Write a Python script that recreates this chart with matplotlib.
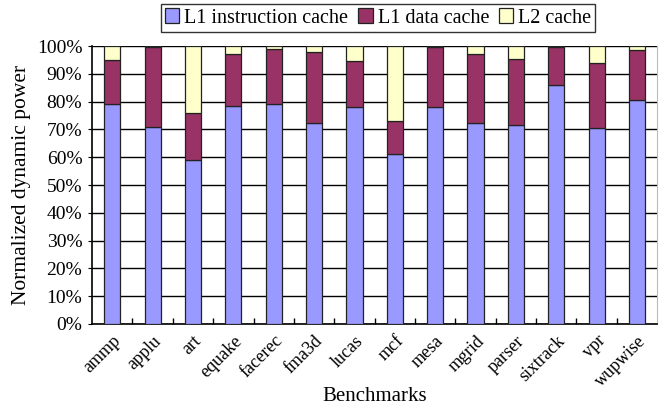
import numpy as np
import matplotlib
matplotlib.use('Agg')
import matplotlib.pyplot as plt
from matplotlib.ticker import PercentFormatter

plt.rcParams['font.family'] = 'Liberation Serif'

benchmarks = ['ammp', 'applu', 'art', 'equake', 'facerec', 'fma3d', 'lucas',
              'mcf', 'mesa', 'mgrid', 'parser', 'sixtrack', 'vpr', 'wupwise']
l1_inst = [79, 71, 59, 78.5, 79, 72.5, 78, 61, 78, 72.5, 71.5, 86, 70.5, 80.5]
l1_data = [16, 28.5, 17, 18.5, 20, 25.5, 16.5, 12, 21.5, 24.5, 24, 13.5, 23.5, 18]
l2 = [5, 0.5, 24, 3, 1, 2, 5.5, 27, 0.5, 3, 4.5, 0.5, 6, 1.5]

fig = plt.figure(figsize=(6.72, 4.08), dpi=100)
ax = fig.add_axes([0.137, 0.206, 0.841, 0.681])

x = np.arange(len(benchmarks))
w = 0.4
l1_inst = np.array(l1_inst)
l1_data = np.array(l1_data)
b1 = ax.bar(x, l1_inst, w, color='#9999FF', edgecolor='#222222', linewidth=0.9,
            label='L1 instruction cache', zorder=3)
b2 = ax.bar(x, l1_data, w, bottom=l1_inst, color='#993366', edgecolor='#222222',
            linewidth=0.9, label='L1 data cache', zorder=3)
b3 = ax.bar(x, l2, w, bottom=l1_inst + l1_data, color='#FFFFCC', edgecolor='#222222',
            linewidth=0.9, label='L2 cache', zorder=3)

ax.set_xlim(-0.5, len(benchmarks) - 0.5)
ax.set_ylim(0, 100)
ax.set_yticks(np.arange(0, 101, 10))
ax.yaxis.set_major_formatter(PercentFormatter(decimals=0))
ax.yaxis.grid(True, color='black', linewidth=1.0, zorder=0)

ax.set_xticks(x)
ax.set_xticklabels(benchmarks, rotation=45, ha='right', rotation_mode='anchor', fontsize=13)
ax.tick_params(axis='x', length=0, pad=6)
ax.set_xticks(np.arange(0.5, len(benchmarks) - 0.5, 1), minor=True)
ax.tick_params(axis='x', which='minor', direction='in', length=4, width=1)
ax.tick_params(axis='y', labelsize=14, length=3, pad=4)

ax.spines['top'].set_visible(False)
ax.spines['right'].set_color('#bbbbbb')
ax.spines['left'].set_linewidth(1.2)
ax.spines['bottom'].set_linewidth(1.2)

fig.text(0.558, 0.027, 'Benchmarks', fontsize=15, ha='center', va='center')
ax.set_ylabel('Normalized dynamic power', fontsize=15.5, labelpad=4)

leg = fig.legend(handles=[b1, b2, b3], loc='center', bbox_to_anchor=(0.563, 0.956),
                 ncol=3, fontsize=14.5, frameon=True, fancybox=False,
                 handlelength=0.7, handleheight=0.7, handletextpad=0.25,
                 columnspacing=0.5, borderpad=0.2, borderaxespad=0)
leg.get_frame().set_edgecolor('black')
leg.get_frame().set_linewidth(1.0)

plt.savefig('out.png', dpi=100)
